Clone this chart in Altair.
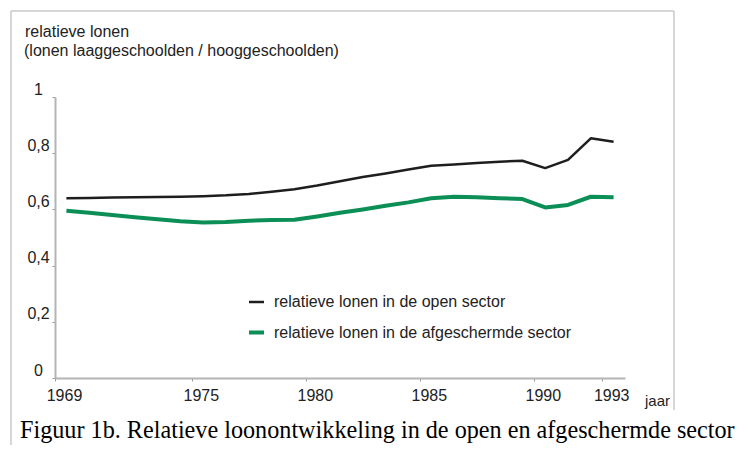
import altair as alt
import pandas as pd

# ---- data ----
years = [1969.5, 1970.5, 1971.5, 1972.5, 1973.5, 1974.5, 1975.5, 1976.5, 1977.5,
         1978.5, 1979.5, 1980.5, 1981.5, 1982.5, 1983.5, 1984.5, 1985.5, 1986.5,
         1987.5, 1988.5, 1989.5, 1990.5, 1991.5, 1992.5, 1993.5]
open_sector = [0.640, 0.641, 0.642, 0.643, 0.644, 0.645, 0.647, 0.650, 0.655,
               0.663, 0.672, 0.685, 0.700, 0.715, 0.728, 0.742, 0.755, 0.760,
               0.765, 0.770, 0.773, 0.747, 0.776, 0.853, 0.841]
sheltered = [0.595, 0.588, 0.580, 0.572, 0.565, 0.558, 0.553, 0.555, 0.560,
             0.562, 0.563, 0.575, 0.588, 0.600, 0.613, 0.625, 0.640, 0.645,
             0.643, 0.640, 0.637, 0.607, 0.616, 0.645, 0.643]
series_names = ["relatieve lonen in de open sector",
                "relatieve lonen in de afgeschermde sector"]
x_ticks = [1969, 1975, 1980, 1985, 1990, 1993]
y_ticks = [0, 0.2, 0.4, 0.6, 0.8, 1]
title_lines = ["relatieve lonen", "(lonen laaggeschoolden / hooggeschoolden)"]
x_title = "jaar"
caption = "Figuur 1b. Relatieve loonontwikkeling in de open en afgeschermde sector"

df = pd.DataFrame({
    "jaar": years + years,
    "waarde": open_sector + sheltered,
    "reeks": [series_names[0]] * len(years) + [series_names[1]] * len(years),
})
one = pd.DataFrame({"d": [0]})

SANS = "Liberation Sans"
SERIF = "Liberation Serif"

lines = alt.Chart(df).mark_line(strokeJoin="round").encode(
    x=alt.X("jaar:Q",
            scale=alt.Scale(domain=[1969, 1994], nice=False, zero=False),
            axis=alt.Axis(values=x_ticks, format="d", title=None, grid=False,
                          labelOffset=9, labelFlush=False, tickSize=3,
                          labelPadding=6, labelFontSize=16, labelFont=SANS,
                          labelColor="#222222", domainColor="#b4b4b4",
                          domainWidth=2, tickColor="#999999")),
    y=alt.Y("waarde:Q",
            scale=alt.Scale(domain=[0, 1], nice=False),
            axis=alt.Axis(values=y_ticks, title=None, grid=False,
                          labelExpr="replace(format(datum.value, '~g'), '.', ',')",
                          labelAlign="center", labelBaseline="middle",
                          labelOffset=-8, tickSize=3, labelPadding=14,
                          labelFontSize=16, labelFont=SANS, labelColor="#222222",
                          domainColor="#b4b4b4", domainWidth=2,
                          tickColor="#999999")),
    color=alt.Color("reeks:N",
                    scale=alt.Scale(domain=series_names,
                                    range=["#1e1e1e", "#0c8e57"]),
                    legend=alt.Legend(orient="none", legendX=192, legendY=196,
                                      title=None, symbolType="stroke",
                                      symbolStrokeWidth=3.5, symbolSize=225,
                                      labelFontSize=16, labelFont=SANS,
                                      labelColor="#222222", labelLimit=0,
                                      rowPadding=13, labelOffset=8,
                                      padding=0, direction="vertical")),
    strokeWidth=alt.StrokeWidth("reeks:N",
                                scale=alt.Scale(domain=series_names,
                                                range=[2.5, 4]),
                                legend=None),
)


def label(text, x, y, size, font=SANS, baseline="middle", color="#222222"):
    return alt.Chart(one).mark_text(
        align="left", baseline=baseline, fontSize=size, font=font, color=color
    ).encode(x=alt.value(x), y=alt.value(y), text=alt.value(text))


def rule(x, x2, y, y2, color="#c8c8c8"):
    return alt.Chart(one).mark_rule(color=color, strokeWidth=1.5).encode(
        x=alt.value(x), x2=alt.value(x2), y=alt.value(y), y2=alt.value(y2))


frame = (rule(-44, -44, -86, 360) + rule(-44, 619, -86, -86)
         + rule(619, 619, -86, 313))

texts = (label(title_lines[0], -30, -65, 16)
         + label(title_lines[1], -31, -46, 16)
         + label(x_title, 590, 304, 15)
         + label(caption, -35, 341, 24.2, font=SERIF, baseline="alphabetic",
                 color="#000000"))

chart = alt.layer(frame, lines, texts).properties(
    width=570, height=281,
    autosize=alt.AutoSizeParams(type="none"),
    padding={"left": 47, "top": 89, "right": 115, "bottom": 67},
    background="#ffffff",
).configure_view(stroke=None)

chart.save("out.html", embed_options={"renderer": "svg", "actions": False})
